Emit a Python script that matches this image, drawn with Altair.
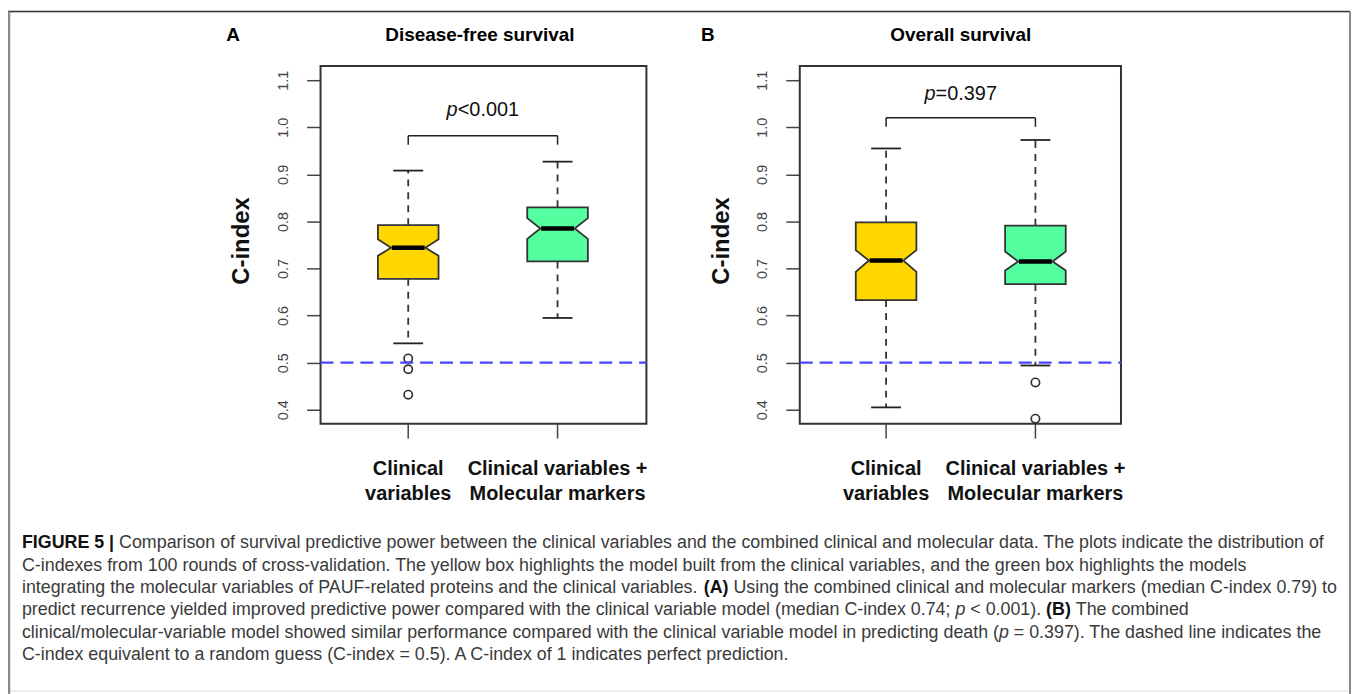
import altair as alt
import pandas as pd

# ---------------- data ----------------
panels = ["A", "B"]
panel_titles = ["Disease-free survival", "Overall survival"]
groups = ["Clinical variables", "Clinical variables + Molecular markers"]
group_labels = ["Clinical\nvariables", "Clinical variables +\nMolecular markers"]
fill_colors = ["#FFD700", "#54FF9F"]

whisker_lo = {"A": [0.541, 0.595], "B": [0.405, 0.494]}
q1 = {"A": [0.678, 0.715], "B": [0.633, 0.667]}
median = {"A": [0.744, 0.785], "B": [0.717, 0.715]}
q3 = {"A": [0.792, 0.830], "B": [0.798, 0.791]}
whisker_hi = {"A": [0.908, 0.927], "B": [0.955, 0.973]}
notch_lo = {"A": [0.727, 0.763], "B": [0.693, 0.696]}
notch_hi = {"A": [0.762, 0.807], "B": [0.739, 0.736]}
outliers = {"A": [[0.509, 0.486, 0.432], []], "B": [[], [0.458, 0.381]]}

p_labels = {"A": "<0.001", "B": "=0.397"}
bracket_top = {"A": 0.982, "B": 1.020}
bracket_bottom = {"A": 0.963, "B": 1.001}
p_text_y = {"A": 1.025, "B": 1.058}

reference_line = 0.5
y_ticks = [0.4, 0.5, 0.6, 0.7, 0.8, 0.9, 1.0, 1.1]
y_label = "C-index"

caption_lines = [
    [("FIGURE 5 | ", "b"), ("Comparison of survival predictive power between the clinical variables and the combined clinical and molecular data. The plots indicate the distribution of", "n")],
    [("C-indexes from 100 rounds of cross-validation. The yellow box highlights the model built from the clinical variables, and the green box highlights the models", "n")],
    [("integrating the molecular variables of PAUF-related proteins and the clinical variables. ", "n"), ("(A)", "b"), (" Using the combined clinical and molecular markers (median C-index 0.79) to", "n")],
    [("predict recurrence yielded improved predictive power compared with the clinical variable model (median C-index 0.74; ", "n"), ("p", "i"), (" < 0.001). ", "n"), ("(B)", "b"), (" The combined", "n")],
    [("clinical/molecular-variable model showed similar performance compared with the clinical variable model in predicting death (", "n"), ("p", "i"), (" = 0.397). The dashed line indicates the", "n")],
    [("C-index equivalent to a random guess (C-index = 0.5). A C-index of 1 indicates perfect prediction.", "n")],
]

# ---------------- layout constants ----------------
FONT = "Liberation Sans"
W, H = 1348, 682
panel_offset = {"A": 0.0, "B": 3.2}
group_pos = [1, 2]
panel_xlim = {"A": (0.413, 2.595), "B": (3.622, 5.773)}
panel_ylim = (0.3704, 1.13)
box_half = 0.203
notch_half = 0.115
cap_half = 0.10
median_half = 0.11
X_RANGE = [402, 1032]
PX_PER_UNIT = (X_RANGE[1] - X_RANGE[0]) / 4.2
AXIS_Y = 414

X_SCALE = alt.Scale(domain=[1, 5.2], range=X_RANGE, nice=False, zero=False)
Y_SCALE = alt.Scale(domain=[0.4, 1.1], range=[400, 69], nice=False, zero=False)

# Helvetica / Arial advance widths (per 1000 em)
REG = {' ': 278, '!': 278, '"': 355, '#': 556, '$': 556, '%': 889, '&': 667, "'": 191, '(': 333, ')': 333,
       '*': 389, '+': 584, ',': 278, '-': 333, '.': 278, '/': 278, ':': 278, ';': 278, '<': 584, '=': 584,
       '>': 584, '?': 556, '@': 1015, 'A': 667, 'B': 667, 'C': 722, 'D': 722, 'E': 667, 'F': 611, 'G': 778,
       'H': 722, 'I': 278, 'J': 500, 'K': 667, 'L': 556, 'M': 833, 'N': 722, 'O': 778, 'P': 667, 'Q': 778,
       'R': 722, 'S': 667, 'T': 611, 'U': 722, 'V': 667, 'W': 944, 'X': 667, 'Y': 667, 'Z': 611, '[': 278,
       ']': 278, '_': 556, 'a': 556, 'b': 556, 'c': 500, 'd': 556, 'e': 556, 'f': 278, 'g': 556, 'h': 556,
       'i': 222, 'j': 222, 'k': 500, 'l': 222, 'm': 833, 'n': 556, 'o': 556, 'p': 556, 'q': 556, 'r': 333,
       's': 500, 't': 278, 'u': 556, 'v': 500, 'w': 722, 'x': 500, 'y': 500, 'z': 500, '|': 260}
for d in "0123456789":
    REG[d] = 556
BOLD = dict(REG)
BOLD.update({'A': 722, 'B': 722, 'E': 667, 'F': 611, 'G': 778, 'I': 278, 'R': 722, 'U': 722, '|': 280})


def units(s, style):
    table = BOLD if style == "b" else REG
    return sum(table.get(c, 556) for c in s)


# ---------------- tables ----------------
box_rows, area_rows, whisk_rows, cap_rows, out_rows, tick_rows = [], [], [], [], [], []
for p in panels:
    for i, g in enumerate(groups):
        c = group_pos[i] + panel_offset[p]
        bid = f"{p}-{i}"
        box_rows.append(dict(panel=p, grp=g, c=c, med=median[p][i],
                             ml=c - median_half, mr=c + median_half))
        pts = [(q1[p][i], box_half), (notch_lo[p][i], box_half), (median[p][i], notch_half),
               (notch_hi[p][i], box_half), (q3[p][i], box_half)]
        for yv, hw in pts:
            area_rows.append(dict(box=bid, grp=g, yv=yv, xl=c - hw, xr=c + hw))
        whisk_rows.append(dict(c=c, y1=q3[p][i], y2=whisker_hi[p][i]))
        whisk_rows.append(dict(c=c, y1=q1[p][i], y2=whisker_lo[p][i]))
        for yv in (whisker_hi[p][i], whisker_lo[p][i]):
            cap_rows.append(dict(cl=c - cap_half, cr=c + cap_half, yv=yv))
        for yv in outliers[p][i]:
            out_rows.append(dict(c=c, yv=yv))
        tick_rows.append(dict(c=c, label=group_labels[i]))

box_df = pd.DataFrame(box_rows)
area_df = pd.DataFrame(area_rows)
whisk_df = pd.DataFrame(whisk_rows)
cap_df = pd.DataFrame(cap_rows)
out_df = pd.DataFrame(out_rows)
tick_df = pd.DataFrame(tick_rows)
ref_df = pd.DataFrame([dict(xl=panel_xlim[p][0], xr=panel_xlim[p][1], yv=reference_line) for p in panels])
br_df = pd.DataFrame([dict(x1=group_pos[0] + panel_offset[p], x2=group_pos[1] + panel_offset[p],
                           yt=bracket_top[p], yb=bracket_bottom[p]) for p in panels])
leg_df = pd.DataFrame([dict(xv=group_pos[j] + panel_offset[p], yt=bracket_top[p], yb=bracket_bottom[p])
                       for p in panels for j in range(2)])


def X(f, axis=None, **kw):
    return alt.X(f"{f}:Q", scale=X_SCALE, axis=axis, **kw)


def Y(f, axis=None, **kw):
    return alt.Y(f"{f}:Q", scale=Y_SCALE, axis=axis, **kw)


def y_axis(offset):
    return alt.Axis(values=y_ticks, format=".1f", orient="left", offset=offset, domain=False, grid=False,
                    tickSize=14, tickWidth=1.5, tickColor="#444", labelAngle=270, labelAlign="center",
                    labelBaseline="bottom", labelPadding=16, labelFontSize=14.5, labelColor="#444",
                    labelFont=FONT, labelFlush=False, labelOverlap=False, title=y_label, titleFont=FONT,
                    titleFontSize=24, titleFontWeight="bold", titleColor="#111", titleAngle=270,
                    titleAlign="center", titleBaseline="middle", titleX=-79, titleY=230)


layers = []
for p in panels:
    fdf = pd.DataFrame([dict(xl=panel_xlim[p][0], xr=panel_xlim[p][1], yl=panel_ylim[0], yh=panel_ylim[1])])
    left_px = X_RANGE[0] + (panel_xlim[p][0] - 1) * PX_PER_UNIT
    layers.append(alt.Chart(fdf).mark_rect(fill="transparent", stroke="#333", strokeWidth=2).encode(
        x=X("xl"), x2="xr", y=Y("yl", y_axis(-left_px)), y2="yh"))

# x ticks and category labels placed through the x scale
layers.append(alt.Chart(tick_df).mark_rule(color="#444", strokeWidth=1.5).encode(
    x=X("c"), y=alt.value(AXIS_Y), y2=alt.value(AXIS_Y + 15)))
layers.append(alt.Chart(tick_df).mark_text(font=FONT, fontSize=20, fontWeight="bold", align="center",
                                           baseline="alphabetic", lineBreak="\n", lineHeight=25,
                                           color="#111").encode(
    x=X("c"), y=alt.value(AXIS_Y + 52), text="label:N"))

layers.append(alt.Chart(whisk_df).mark_rule(color="#333", strokeWidth=1.8, strokeDash=[7, 6]).encode(
    x=X("c"), y=Y("y1"), y2="y2"))
layers.append(alt.Chart(cap_df).mark_rule(color="#222", strokeWidth=1.8).encode(
    x=X("cl"), x2="cr", y=Y("yv")))
layers.append(alt.Chart(area_df).mark_area(orient="horizontal", stroke="#333", strokeWidth=1.8, opacity=1).encode(
    y=Y("yv"), x=X("xl", stack=None), x2="xr", detail="box:N",
    color=alt.Color("grp:N", scale=alt.Scale(domain=groups, range=fill_colors), legend=None)))
layers.append(alt.Chart(box_df).mark_rule(color="#000", strokeWidth=4.5).encode(
    x=X("ml"), x2="mr", y=Y("med")))
layers.append(alt.Chart(out_df).mark_point(shape="circle", filled=False, size=70, strokeWidth=1.7,
                                           color="#333", opacity=1).encode(x=X("c"), y=Y("yv")))
layers.append(alt.Chart(ref_df).mark_rule(color="#4646ff", strokeWidth=2.2, strokeDash=[13, 7]).encode(
    x=X("xl"), x2="xr", y=Y("yv")))
layers.append(alt.Chart(br_df).mark_rule(color="#222", strokeWidth=1.5).encode(
    x=X("x1"), x2="x2", y=Y("yt")))
layers.append(alt.Chart(leg_df).mark_rule(color="#222", strokeWidth=1.5).encode(
    x=X("xv"), y=Y("yb"), y2="yt"))

P_FS = 20
for p in panels:
    wp = units("p", "i") * P_FS / 1000
    wr = units(p_labels[p], "n") * P_FS / 1000
    start = -(wp + wr) / 2
    xc = (group_pos[0] + group_pos[1]) / 2 + panel_offset[p]
    d = pd.DataFrame([dict(xv=xc, yv=p_text_y[p], t1="p", t2=p_labels[p])])
    layers.append(alt.Chart(d).mark_text(font=FONT, fontSize=P_FS, fontStyle="italic", align="left",
                                         baseline="alphabetic", dx=start, color="#111").encode(
        x=X("xv"), y=Y("yv"), text="t1:N"))
    layers.append(alt.Chart(d).mark_text(font=FONT, fontSize=P_FS, align="left",
                                         baseline="alphabetic", dx=start + wp, color="#111").encode(
        x=X("xv"), y=Y("yv"), text="t2:N"))

# panel titles
title_pos = {"A": (226, 474), "B": (703, 957)}
for p, t in zip(panels, panel_titles):
    d = pd.DataFrame([dict(letter=p, title=t)])
    layers.append(alt.Chart(d).mark_text(font=FONT, fontSize=19, fontWeight="bold", align="center",
                                         baseline="alphabetic", color="#000").encode(
        x=alt.value(title_pos[p][0]), y=alt.value(30), text="letter:N"))
    layers.append(alt.Chart(d).mark_text(font=FONT, fontSize=19, fontWeight="bold", align="center",
                                         baseline="alphabetic", color="#000").encode(
        x=alt.value(title_pos[p][1]), y=alt.value(30), text="title:N"))

# caption
cap_left = 14
cap_width = 1308
cap_fs = cap_width / (sum(units(s, st) for s, st in caption_lines[0]) / 1000)
cap_base = [539, 561.5, 584, 606.5, 629, 651.5]
for li, line in enumerate(caption_lines):
    cum = cap_left
    for seg, st in line:
        lead = len(seg) - len(seg.lstrip())
        xs = cum + units(seg[:lead], st) * cap_fs / 1000
        cum += units(seg, st) * cap_fs / 1000
        d = pd.DataFrame([dict(t=seg.strip())])
        kw = dict(font=FONT, fontSize=cap_fs, align="left", baseline="alphabetic",
                  color="#3a3a3a" if st != "b" else "#111")
        if st == "b":
            kw["fontWeight"] = "bold"
        if st == "i":
            kw["fontStyle"] = "italic"
        layers.append(alt.Chart(d).mark_text(**kw).encode(
            x=alt.value(xs), y=alt.value(cap_base[li]), text="t:N"))

# outer frame
fr = pd.DataFrame([dict(k=1)])
layers.append(alt.Chart(fr).mark_rule(color="#333", strokeWidth=1.5).encode(
    x=alt.value(0), x2=alt.value(W), y=alt.value(0)))
layers.append(alt.Chart(fr).mark_rule(color="#8a8a8a", strokeWidth=2.5).encode(
    x=alt.value(1), y=alt.value(0), y2=alt.value(H + 4)))
layers.append(alt.Chart(fr).mark_rule(color="#8a8a8a", strokeWidth=2).encode(
    x=alt.value(W), y=alt.value(0), y2=alt.value(H + 4)))

chart = alt.layer(*layers).resolve_scale(y="independent").properties(
    width=W, height=H, autosize=alt.AutoSizeParams(type="none"),
    padding={"left": 0, "top": 2, "right": 4, "bottom": 2},
).configure_view(stroke=None).configure(background="white")

chart.save("out.html", embed_options={"renderer": "svg", "actions": False})
